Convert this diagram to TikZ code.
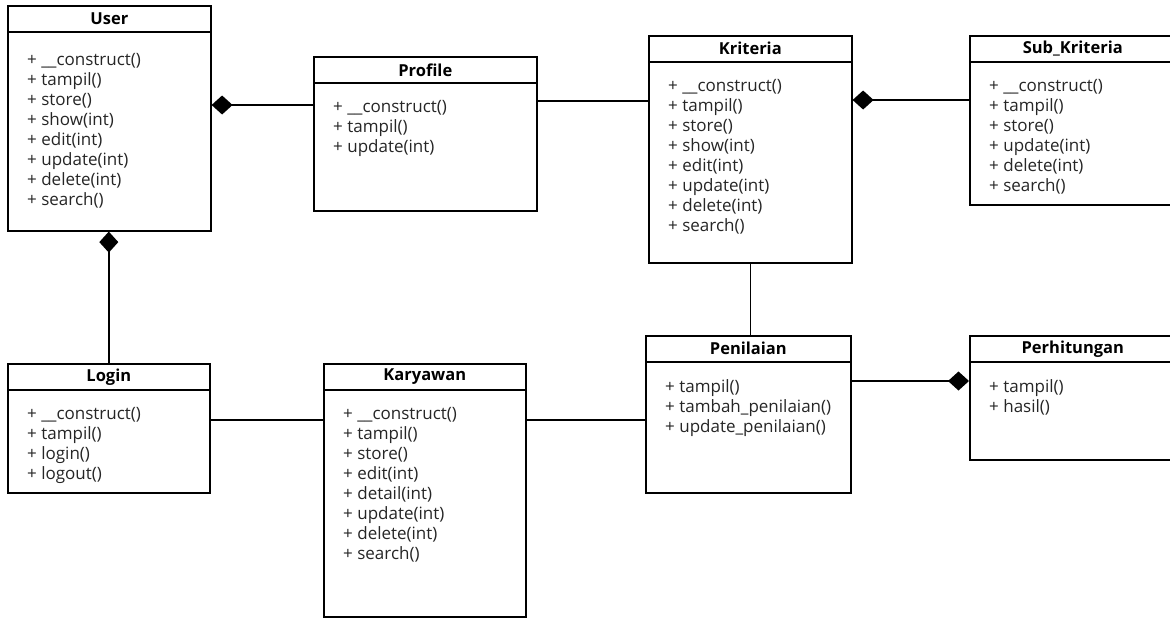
\documentclass[tikz,border=0pt]{standalone}
\usepackage{fontspec}
\setmainfont{Open Sans}
\usetikzlibrary{positioning, arrows.meta}
\tikzset{>=latex}
\colorlet{mytext}{black!85}

\begin{document}
\begin{tikzpicture}[x=1pt, y=-1pt,
                    line cap=butt, line join=miter,
                    classbox/.style={draw, line width=1.6pt, anchor=north west, inner sep=0pt},
                    classhead/.style={draw, line width=1.6pt, anchor=north, inner sep=0pt,
                                      minimum height=26pt, font=\fontsize{16.5}{20}\selectfont\bfseries},
                    methods/.style={anchor=north west, align=left, inner sep=0pt, text=mytext,
                                    font=\fontsize{17}{20}\selectfont},
                    conn/.style={line width=1.6pt},
                    comp/.style={conn, {Diamond[length=21pt,width=19pt]}-}]
  \useasboundingbox (0,0) rectangle (1170,618);
  \fill[white] (0,0) rectangle (1170,618);
  \clip (0,0) rectangle (1170,618);

  \def\opsshift{17}
  % #1 name, #2 x, #3 y, #4 width, #5 height, #6 title, #7 methods
  \def\umlclass#1#2#3#4#5#6#7{
    \node[classbox, minimum width=#4pt, minimum height=#5pt] (#1) at (#2,#3) {};
    \node[classhead, minimum width=#4pt] (#1-head) at (#1.north) {#6};
    \node[methods] (#1-ops) at ([xshift=20pt,yshift=-\opsshift pt]#1-head.south west) {#7};
  }

  % classes
  {\def\opsshift{21}
  \umlclass{user}{7}{5}{203}{225}{User}
    {+ \_\_construct()\\+ tampil()\\+ store()\\+ show(int)\\+ edit(int)\\+ update(int)\\+ delete(int)\\+ search()}}
  \umlclass{profile}{313}{56}{223}{154}{Profile}
    {+ \_\_construct()\\+ tampil()\\+ update(int)}
  \umlclass{kriteria}{648}{35}{203}{227}{Kriteria}
    {+ \_\_construct()\\+ tampil()\\+ store()\\+ show(int)\\+ edit(int)\\+ update(int)\\+ delete(int)\\+ search()}
  \umlclass{subkriteria}{969}{35}{206}{169}{Sub\_Kriteria}
    {+ \_\_construct()\\+ tampil()\\+ store()\\+ update(int)\\+ delete(int)\\+ search()}
  \umlclass{login}{7}{363}{202}{129}{Login}
    {+ \_\_construct()\\+ tampil()\\+ login()\\+ logout()}
  \umlclass{karyawan}{323}{363}{202}{253}{Karyawan}
    {+ \_\_construct()\\+ tampil()\\+ store()\\+ edit(int)\\+ detail(int)\\+ update(int)\\+ delete(int)\\+ search()}
  \umlclass{penilaian}{645}{335}{205}{157}{Penilaian}
    {+ tampil()\\+ tambah\_penilaian()\\+ update\_penilaian()}
  \umlclass{perhitungan}{969}{335}{206}{124}{Perhitungan}
    {+ tampil()\\+ hasil()}

  % relations
  \draw[comp] (user.east |- 0,105) -- (profile.west |- 0,105);
  \draw[comp] (login.north |- user.south) -- (login.north);
  \draw[conn] (profile.east |- 0,101) -- (kriteria.west |- 0,101);
  \draw[comp] (kriteria.east |- 0,100) -- (subkriteria.west |- 0,100);
  \draw[conn] (kriteria.south) -- (kriteria.south |- penilaian.north);
  \draw[conn] (login.east |- 0,420) -- (karyawan.west |- 0,420);
  \draw[conn] (karyawan.east |- 0,420) -- (penilaian.west |- 0,420);
  \draw[comp] (perhitungan.west |- 0,381) -- (penilaian.east |- 0,381);
\end{tikzpicture}
\end{document}
